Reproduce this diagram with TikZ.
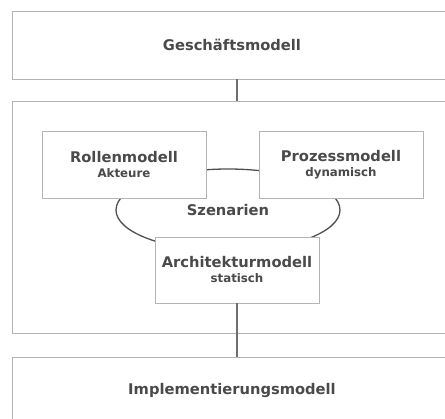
\documentclass[tikz,border=0pt]{standalone}
\usepackage{fontspec}
\setmainfont{DejaVu Sans}
\usetikzlibrary{positioning,shapes.geometric}
\definecolor{labelgray}{HTML}{4A4A4A}
\definecolor{framegray}{HTML}{B4B4B4}
\definecolor{linkgray}{HTML}{6E6E6E}
\definecolor{ringgray}{HTML}{505050}
\newcommand{\titlefont}{\fontsize{14.7}{15}\selectfont\bfseries}
\newcommand{\subfont}{\fontsize{11.8}{15}\selectfont\bfseries}
\tikzset{
  layer/.style={draw=framegray,line width=0.9pt,fill=white,rectangle,
    minimum width=440pt,inner sep=0pt,outer sep=0pt,
    text=labelgray,font=\titlefont},
  model/.style={draw=framegray,line width=0.9pt,fill=white,rectangle,
    minimum width=164pt,minimum height=67pt,inner sep=0pt,outer sep=0pt,
    align=center,text=labelgray,font=\titlefont},
  link/.style={draw=linkgray,line width=2pt}
}
\begin{document}
\begin{tikzpicture}[x=1pt,y=-1pt]
\path[fill=white,use as bounding box] (0,0) rectangle (445,419);
% the three layers
\node (gesch) [layer,minimum height=68pt] at (232,45) {Geschäftsmodell};
\node (mitte) [layer,minimum height=232pt] at (232,217) {};
\node (impl) [layer,minimum height=68pt] at (232,391) {Implementierungsmodell};
% scenario ring behind the models
\node (szen) [ellipse,draw=ringgray,line width=1.3pt,minimum width=224pt,
  minimum height=82pt,inner sep=0pt,text=labelgray,font=\titlefont]
  at (228,210) {\raisebox{-3pt}{Szenarien}};
\node (rollen) [model] at (124,164.5) {Rollenmodell\\{\subfont Akteure}};
\node (prozess) [model,right=53pt of rollen] {Prozessmodell\\{\subfont dynamisch}};
\node (arch) [model,minimum height=66pt] at (237,270) {Architekturmodell\\{\subfont statisch}};
% links between layers
\draw[link] (arch.north |- gesch.south) -- (arch.north |- mitte.north);
\draw[link] (arch.south) -- (arch.south |- impl.north);
\end{tikzpicture}
\end{document}
